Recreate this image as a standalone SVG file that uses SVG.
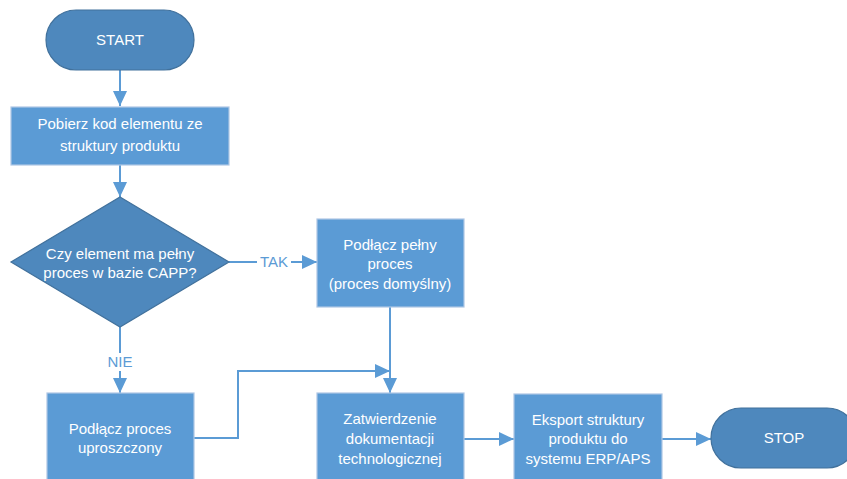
<svg xmlns="http://www.w3.org/2000/svg" width="847" height="479" viewBox="0 0 847 479">
  <defs>
    <style>
      .proc { fill: #5b9bd5; stroke: #aec6e4; stroke-width: 1.2; }
      .term { fill: #4e88bd; stroke: #41719c; stroke-width: 1.2; }
      .txt { font-family: "Liberation Sans", Arial, sans-serif; font-size: 15px; fill: #ffffff; text-anchor: middle; }
      .lbl { font-family: "Liberation Sans", Arial, sans-serif; font-size: 15px; fill: #5b9bd5; text-anchor: middle; }
      .conn { fill: none; stroke: #5b9bd5; stroke-width: 2; }
      .lblbg { fill: #ffffff; }
    </style>
    <marker id="arrow" markerUnits="userSpaceOnUse" markerWidth="16" markerHeight="16" viewBox="0 0 16 16" refX="15" refY="8" orient="auto">
      <path d="M0 1 L15 8 L0 15 Z" fill="#5b9bd5"/>
    </marker>
  </defs>

  <!-- connectors -->
  <g id="connectors">
    <path class="conn" d="M120 70 V106" marker-end="url(#arrow)"/>
    <path class="conn" d="M120 165 V197" marker-end="url(#arrow)"/>
    <path class="conn" d="M229 262 H317" marker-end="url(#arrow)"/>
    <path class="conn" d="M120 327 V393" marker-end="url(#arrow)"/>
    <path class="conn" d="M390 307 V393" marker-end="url(#arrow)"/>
    <path class="conn" d="M194 438 H238 V371 H390" marker-end="url(#arrow)"/>
    <path class="conn" d="M464 439 H514" marker-end="url(#arrow)"/>
    <path class="conn" d="M662 439 H711" marker-end="url(#arrow)"/>
    <rect class="lblbg" x="257" y="253" width="34" height="18"/>
    <text class="lbl" x="274" y="267">TAK</text>
    <rect class="lblbg" x="106" y="353" width="28" height="18"/>
    <text class="lbl" x="120" y="367">NIE</text>
  </g>

  <g id="start">
    <rect class="term" x="46" y="10" width="148" height="60" rx="30" ry="30"/>
    <text class="txt" x="120" y="45">START</text>
  </g>

  <g id="get-code">
    <rect class="proc" x="11" y="107" width="218" height="58"/>
    <text class="txt" x="120" y="129">Pobierz kod elementu ze</text>
    <text class="txt" x="120" y="151">struktury produktu</text>
  </g>

  <g id="decision">
    <polygon class="term" points="120,197 229,262 120,327 11,262"/>
    <text class="txt" x="120" y="259">Czy element ma pełny</text>
    <text class="txt" x="120" y="278">proces w bazie CAPP?</text>
  </g>

  <g id="full-process">
    <rect class="proc" x="317" y="219" width="147" height="88"/>
    <text class="txt" x="390" y="250">Podłącz pełny</text>
    <text class="txt" x="390" y="269">proces</text>
    <text class="txt" x="390" y="289">(proces domyślny)</text>
  </g>

  <g id="simple-process">
    <rect class="proc" x="47" y="393" width="147" height="95"/>
    <text class="txt" x="120" y="434">Podłącz proces</text>
    <text class="txt" x="120" y="453">uproszczony</text>
  </g>

  <g id="approval">
    <rect class="proc" x="317" y="393" width="147" height="95"/>
    <text class="txt" x="390" y="424">Zatwierdzenie</text>
    <text class="txt" x="390" y="444">dokumentacji</text>
    <text class="txt" x="390" y="464">technologicznej</text>
  </g>

  <g id="export">
    <rect class="proc" x="514" y="394" width="148" height="94"/>
    <text class="txt" x="588" y="425">Eksport struktury</text>
    <text class="txt" x="588" y="444">produktu do</text>
    <text class="txt" x="588" y="464">systemu ERP/APS</text>
  </g>

  <g id="stop">
    <rect class="term" x="711" y="408" width="146" height="60" rx="30" ry="30"/>
    <text class="txt" x="784" y="443">STOP</text>
  </g>
</svg>
